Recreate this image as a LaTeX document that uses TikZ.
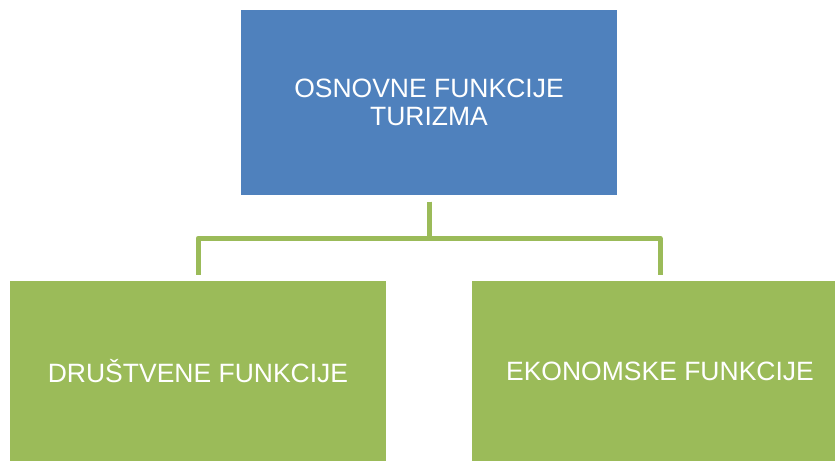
\documentclass[tikz,border=0pt]{standalone}
\usepackage{fontspec}
\setmainfont{Liberation Sans}
\usetikzlibrary{calc}
\definecolor{boxblue}{HTML}{4F81BD}
\definecolor{boxgreen}{HTML}{9BBB59}
\tikzset{
  funcbox/.style = {shape=rectangle, fill=#1, text=white, minimum width=376pt,
                    font=\fontsize{26.5}{28}\selectfont, align=center, inner sep=0pt},
  branch/.style = {draw=boxgreen, line width=5pt, line join=round,
                   shorten <=6.5pt, shorten >=6pt}
}
\begin{document}
\begin{tikzpicture}
                    \useasboundingbox (0,0) rectangle (835pt,461pt);
                    \clip (0,0) rectangle (835pt,461pt);

                    \node[funcbox=boxblue, minimum height=185pt] (osnovne) at (429pt,358.5pt)
                      {OSNOVNE FUNKCIJE\\TURIZMA};
                    \node[funcbox=boxgreen, minimum height=180pt] (drustvene) at (198pt,90pt)
                      {DRUŠTVENE FUNKCIJE};
                    \node[funcbox=boxgreen, minimum height=180pt] (ekonomske) at (660pt,90pt)
                      {EKONOMSKE FUNKCIJE};

                    \draw[branch] (osnovne.south) -- ++(0,-43pt) -| (drustvene.north);
                    \draw[branch] (osnovne.south) -- ++(0,-43pt) -| (ekonomske.north);
                  \end{tikzpicture}
\end{document}
